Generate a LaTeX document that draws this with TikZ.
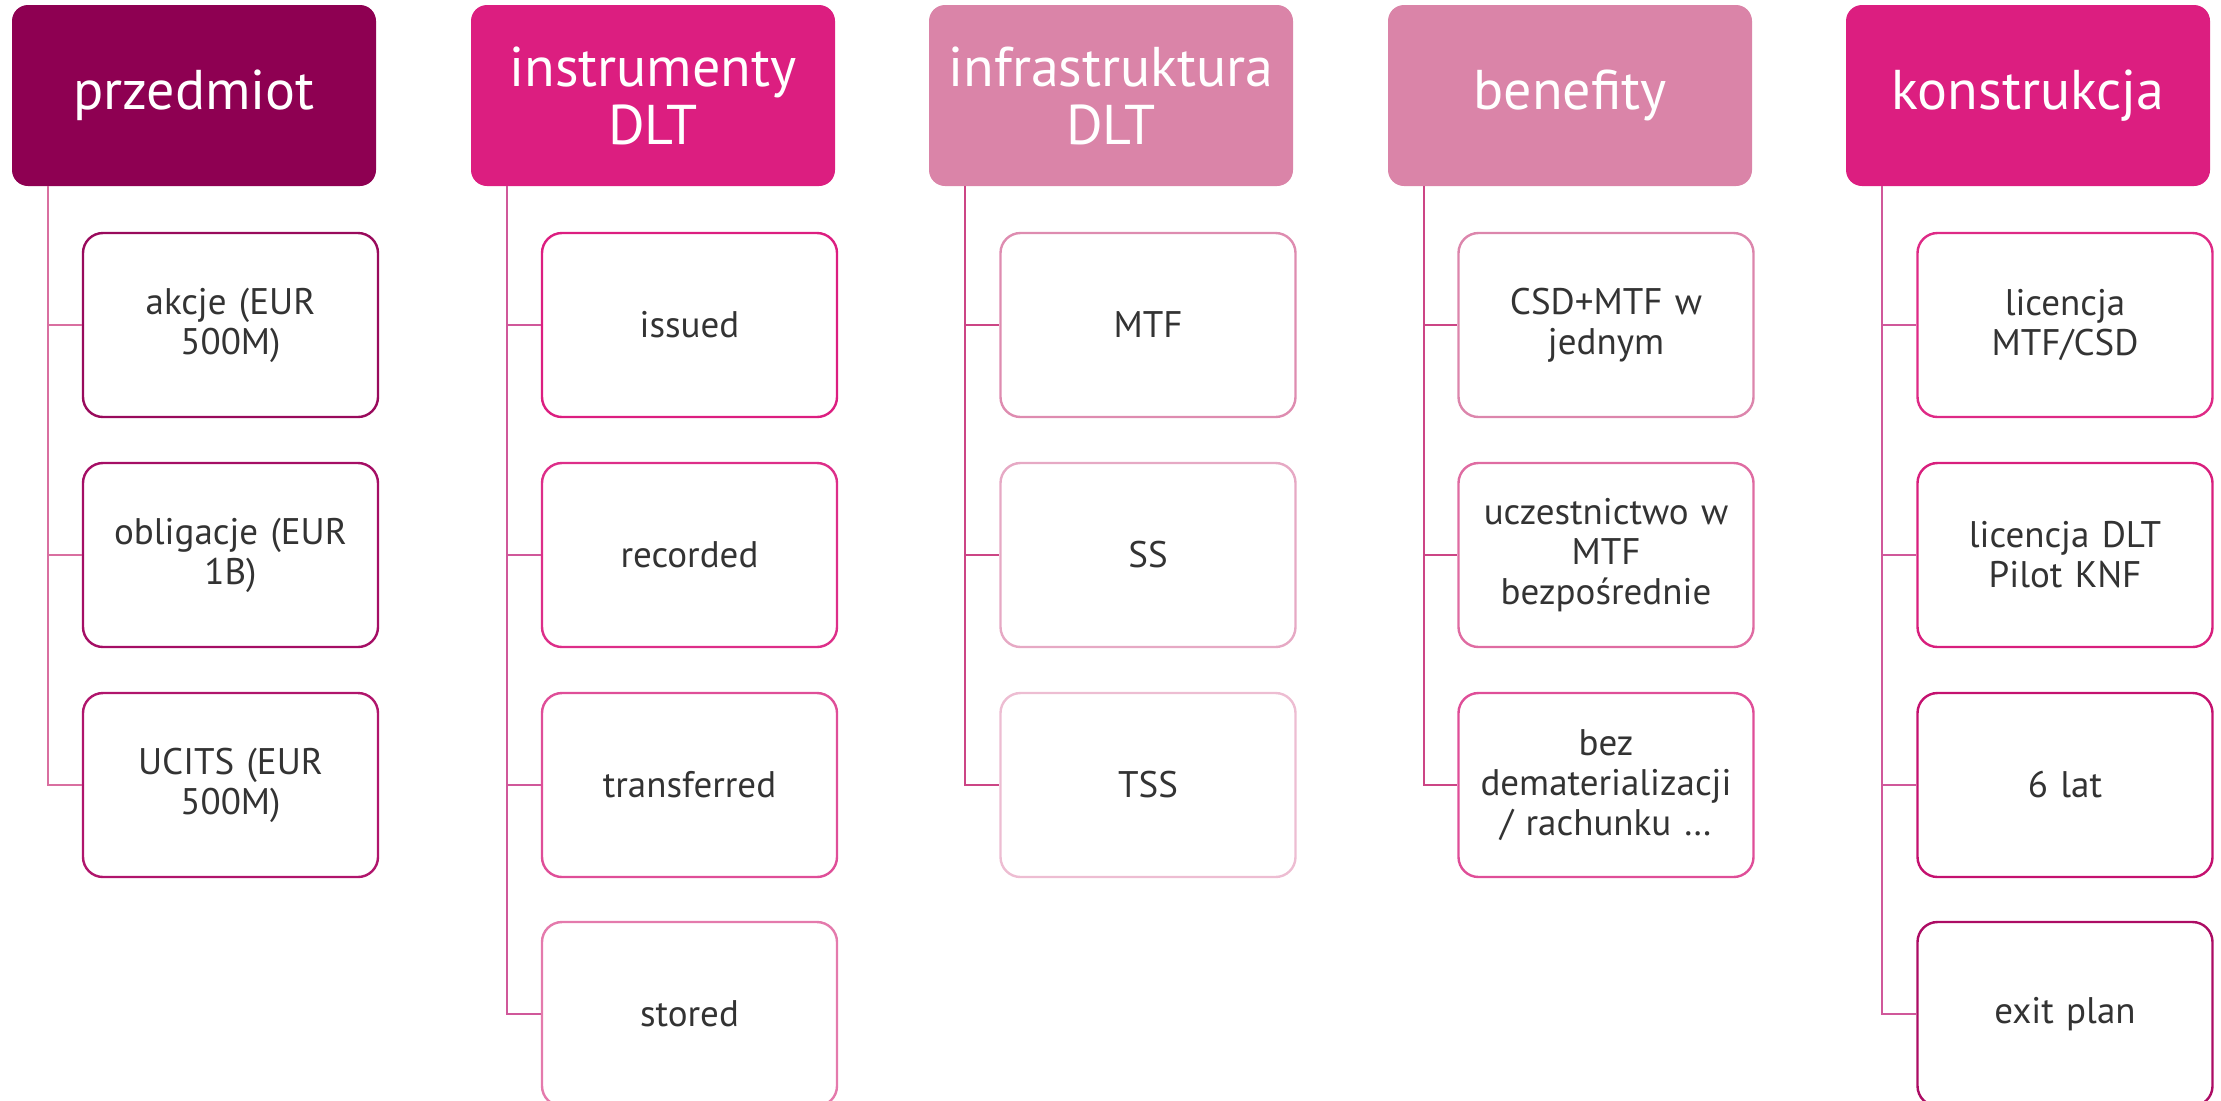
\documentclass[tikz,border=0pt]{standalone}
\usepackage{fontspec}
\setmainfont{PT Sans}
\begin{document}
\begin{tikzpicture}[x=0.5pt,y=-0.5pt,
  hdr/.style={rounded corners=8pt,minimum width=182pt,minimum height=90.5pt,inner sep=0pt,
    text=white,font=\fontsize{28}{29}\selectfont,align=center,text width=180pt},
  kid/.style={draw,line width=1.2pt,rounded corners=10pt,minimum width=147.5pt,minimum height=92pt,
    inner sep=0pt,text=txt,font=\fontsize{18.5}{20}\selectfont,align=center,text width=145pt},
  conn/.style={line width=1pt}]
\definecolor{txt}{HTML}{333333}
\definecolor{hA}{HTML}{8E0052}
\definecolor{hB}{HTML}{DC1E80}
\definecolor{hC}{HTML}{DA84A8}
\definecolor{lnA}{HTML}{D96FA0}
\definecolor{lnB}{HTML}{D0589A}
\definecolor{lnC}{HTML}{CC4585}
\definecolor{bA1}{HTML}{990A5C}
\definecolor{bA2}{HTML}{A50E65}
\definecolor{bA3}{HTML}{B0156C}
\definecolor{bB1}{HTML}{DC1E80}
\definecolor{bB2}{HTML}{DD2E89}
\definecolor{bB3}{HTML}{DF4E98}
\definecolor{bB4}{HTML}{E47AAC}
\definecolor{bC1}{HTML}{DE8CB0}
\definecolor{bC2}{HTML}{E6A9C4}
\definecolor{bC3}{HTML}{EDBDD2}
\definecolor{bD1}{HTML}{DC86AC}
\definecolor{bD2}{HTML}{DF6CA2}
\definecolor{bD3}{HTML}{DF4E98}
\definecolor{bE1}{HTML}{DE2A86}
\definecolor{bE2}{HTML}{D81F7D}
\definecolor{bE3}{HTML}{C4116F}
\definecolor{bE4}{HTML}{AC0C64}
\useasboundingbox (0,0) rectangle (2221,1100);
% headers
\node[hdr,fill=hA] (h1) at (194,95.5) {przedmiot};
\node[hdr,fill=hB] (h2) at (653,95.5) {instrumenty\\DLT};
\node[hdr,fill=hC] (h3) at (1111,95.5) {infrastruktura\\DLT};
\node[hdr,fill=hC] (h4) at (1570,95.5) {benefity};
\node[hdr,fill=hB] (h5) at (2028,95.5) {konstrukcja};
% column 1
\node[kid,draw=bA1] (c11) at (230.5,325) {akcje (EUR\\500M)};
\node[kid,draw=bA2] (c12) at (230.5,555) {obligacje (EUR\\1B)};
\node[kid,draw=bA3] (c13) at (230.5,785) {UCITS (EUR\\500M)};
% column 2
\node[kid,draw=bB1] (c21) at (689.5,325) {issued};
\node[kid,draw=bB2] (c22) at (689.5,555) {recorded};
\node[kid,draw=bB3] (c23) at (689.5,785) {transferred};
\node[kid,draw=bB4] (c24) at (689.5,1014) {stored};
% column 3
\node[kid,draw=bC1] (c31) at (1148,325) {MTF};
\node[kid,draw=bC2] (c32) at (1148,555) {SS};
\node[kid,draw=bC3] (c33) at (1148,785) {TSS};
% column 4
\node[kid,draw=bD1] (c41) at (1606,325) {CSD+MTF w\\jednym};
\node[kid,draw=bD2] (c42) at (1606,555) {uczestnictwo w\\MTF\\bezpośrednie};
\node[kid,draw=bD3] (c43) at (1606,785) {bez\\dematerializacji\\/ rachunku …};
% column 5
\node[kid,draw=bE1] (c51) at (2065,325) {licencja\\MTF/CSD};
\node[kid,draw=bE2] (c52) at (2065,555) {licencja DLT\\Pilot KNF};
\node[kid,draw=bE3] (c53) at (2065,785) {6 lat};
\node[kid,draw=bE4] (c54) at (2065,1014) {exit plan};
% connectors
\foreach \h/\c/\n/\col in {h1/c1/3/lnA, h2/c2/4/lnB, h3/c3/3/lnC, h4/c4/3/lnC, h5/c5/4/lnB}{
  \coordinate (\h t) at ([xshift=18pt]\h.south west);
  \draw[conn,draw=\col] (\h t) |- (\c\n.west);
  \foreach \k in {1,...,\n}{
    \draw[conn,draw=\col] (\h t |- \c\k.west) -- (\c\k.west);
  }
}
\end{tikzpicture}
\end{document}
